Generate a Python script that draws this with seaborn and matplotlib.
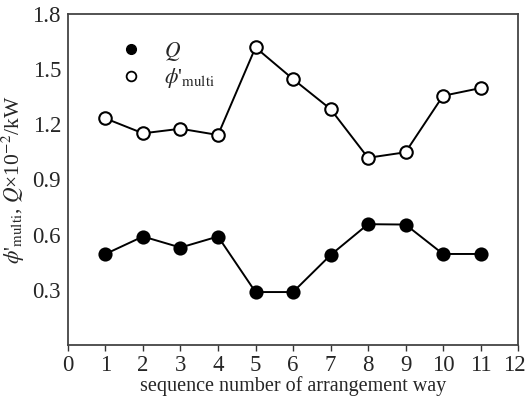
import matplotlib
matplotlib.use("Agg")
import matplotlib.pyplot as plt
import matplotlib.transforms as mtransforms
from matplotlib.lines import Line2D
import seaborn as sns
import pandas as pd

seq = [1, 2, 3, 4, 5, 6, 7, 8, 9, 10, 11]
q_vals = [0.495, 0.59, 0.53, 0.59, 0.288, 0.288, 0.489, 0.657, 0.655, 0.495, 0.495]
phi_vals = [1.232, 1.151, 1.176, 1.142, 1.618, 1.446, 1.283, 1.018, 1.048, 1.355, 1.397]
x_ticks = list(range(0, 13))
y_ticks = [0.3, 0.6, 0.9, 1.2, 1.5, 1.8]

sns.set_style("ticks")
plt.rcParams['font.family'] = ['Liberation Serif', 'DejaVu Serif']
plt.rcParams['mathtext.fontset'] = 'stix'

df_q = pd.DataFrame({"seq": seq, "val": q_vals})
df_p = pd.DataFrame({"seq": seq, "val": phi_vals})

fig = plt.figure(figsize=(5.27, 3.99), dpi=100)
ax = fig.add_axes([0.129, 0.1353, 0.854, 0.8297])

sns.lineplot(data=df_q, x="seq", y="val", ax=ax, color="black", lw=1.4,
             marker="o", markersize=9, markerfacecolor="black",
             markeredgecolor="black", markeredgewidth=1.2)
sns.lineplot(data=df_p, x="seq", y="val", ax=ax, color="black", lw=1.4,
             marker="o", markersize=9, markerfacecolor="white",
             markeredgecolor="black", markeredgewidth=1.5)

ax.set_xlim(0, 12)
ax.set_ylim(0, 1.8)
ax.set_xticks(x_ticks)
ax.set_xticklabels([str(t) for t in x_ticks])
ax.set_yticks(y_ticks)
ax.set_yticklabels([f"{t:.1f}" for t in y_ticks])
ax.tick_params(axis='both', labelsize=16.5, direction='out', length=4, width=1, color='#333333', pad=3)
ax.tick_params(axis='y', length=0, pad=5)
for s in ax.spines.values():
    s.set_linewidth(1.3)
    s.set_color('#444444')
    s.set_visible(True)

# keep the last x tick label inside the canvas
last = ax.get_xticklabels()[-1]
last.set_transform(last.get_transform() + mtransforms.ScaledTranslation(-4 / 100, 0, fig.dpi_scale_trans))

ax.set_xlabel("sequence number of arrangement way", fontsize=14.5, labelpad=0)
ax.set_ylabel(r"$\phi$'$_{\rm multi}$, $Q$×10$^{-2}$/kW", fontsize=15.5, labelpad=4)

handles = [
    Line2D([], [], linestyle='none', marker='o', markersize=7, markerfacecolor='black', markeredgecolor='black'),
    Line2D([], [], linestyle='none', marker='o', markersize=7, markerfacecolor='white', markeredgecolor='black', markeredgewidth=1.3),
]
ax.legend(handles, [r"$Q$", r"$\phi$'$_{\rm multi}$"], loc='upper left',
          bbox_to_anchor=(0.05, 0.98), frameon=False, fontsize=15.5,
          handletextpad=0.5, labelspacing=0.15)

fig.savefig("out.png", dpi=100)
